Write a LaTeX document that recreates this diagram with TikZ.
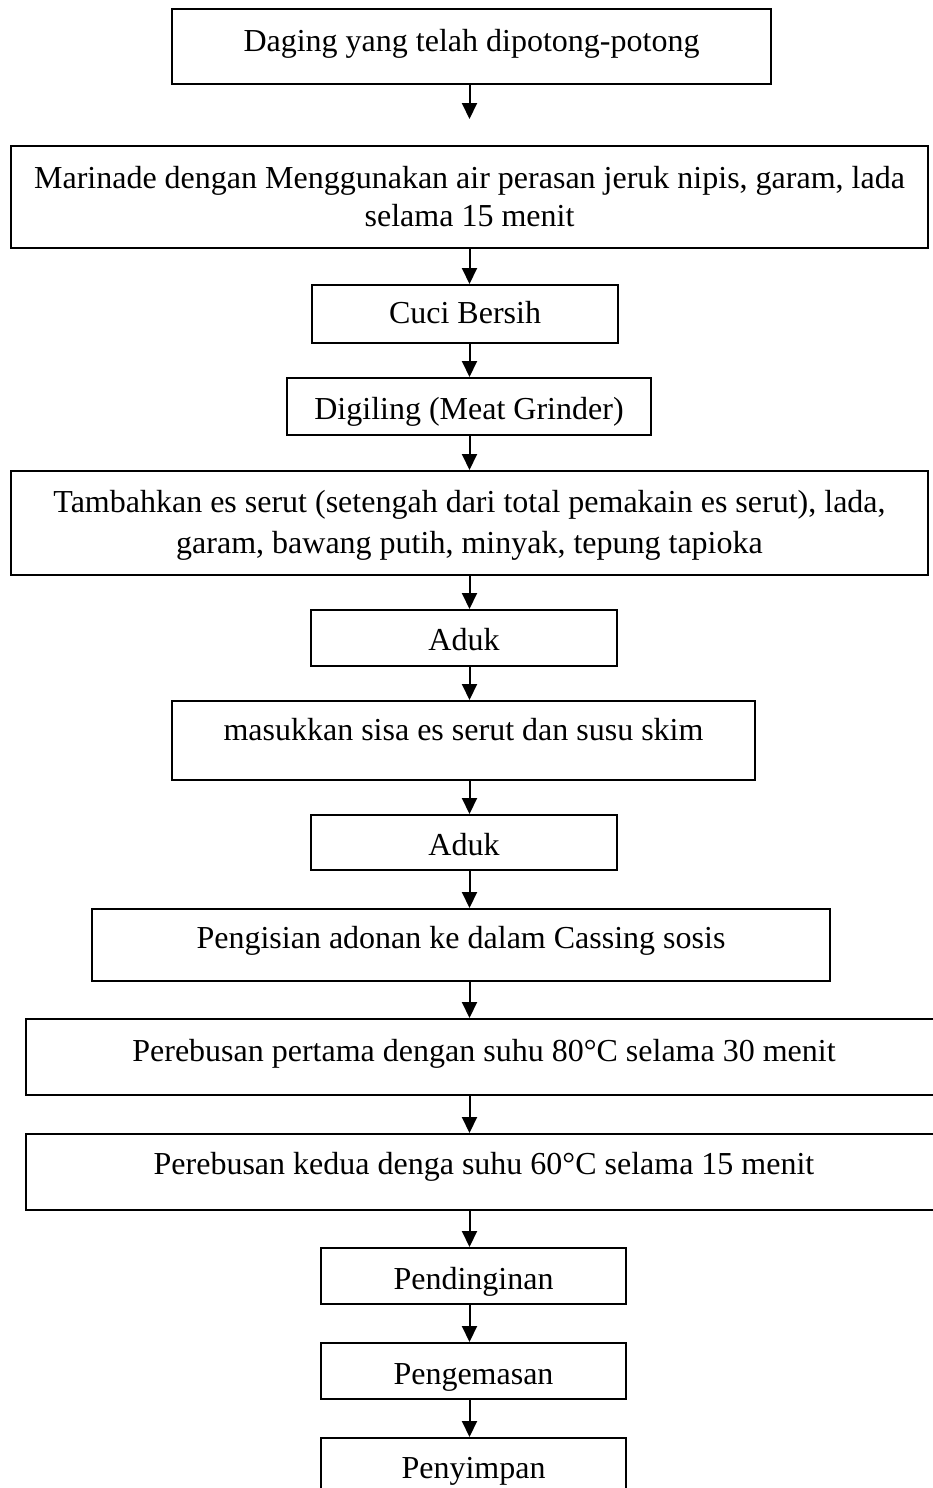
\documentclass[tikz,border=0pt]{standalone}
\usepackage{fontspec}
\setmainfont{Liberation Serif}
\usetikzlibrary{arrows.meta}

\begin{document}
\begin{tikzpicture}[
    x=1pt, y=-1pt,
    font=\fontsize{32}{38}\selectfont,
    >=Latex,
    box/.style={draw, line width=2pt, align=center, inner sep=0pt, anchor=north},
    line/.style={-{Triangle[length=16pt, width=15pt]}, line width=2pt}
]
\useasboundingbox (0,0) rectangle (933,1488);
\coordinate (axis) at (469.5,0);

% Bahan awal
\node[box, minimum width=599pt, text height=43pt, text depth=32pt] (daging) at (471.5,8)
    {Daging yang telah dipotong-potong};
\coordinate (gapend) at ([yshift=-34pt]daging.south -| axis);

% Marinade (two lines: baseline is the last line)
\node[box, minimum width=917pt, text height=80pt, text depth=22pt] (marinade) at (469.5,145)
    {Marinade dengan Menggunakan air perasan jeruk nipis, garam, lada\\selama 15 menit};

% Cuci dan giling
\node[box, minimum width=306pt, text height=38pt, text depth=20pt] (cuci) at (465,284) {Cuci Bersih};
\node[box, minimum width=364pt, text height=41pt, text depth=16pt] (giling) at (469,377) {Digiling (Meat Grinder)};

% Penambahan bahan
\node[box, minimum width=917pt, text height=82pt, text depth=22pt, font=\fontsize{32}{41}\selectfont] (tambah) at (469.5,470)
    {Tambahkan es serut (setengah dari total pemakain es serut), lada,\\garam, bawang putih, minyak, tepung tapioka};
\node[box, minimum width=306pt, text height=40pt, text depth=16pt] (aduka) at (464,609) {Aduk};
\node[box, minimum width=583pt, text height=39pt, text depth=40pt] (masuk) at (463.5,700)
    {masukkan sisa es serut dan susu skim};
\node[box, minimum width=306pt, text height=40pt, text depth=15pt] (adukb) at (464,814) {Aduk};

% Pengisian dan perebusan
\node[box, minimum width=738pt, text height=39pt, text depth=33pt] (isi) at (461,908)
    {Pengisian adonan ke dalam Cassing sosis};
\node[box, minimum width=916pt, text height=42pt, text depth=34pt] (rebusa) at (484,1018)
    {Perebusan pertama dengan suhu 80°C selama 30 menit};
\node[box, minimum width=916pt, text height=40pt, text depth=36pt] (rebusb) at (484,1133)
    {Perebusan kedua denga suhu 60°C selama 15 menit};

% Akhir
\node[box, minimum width=305pt, text height=41pt, text depth=15pt] (dingin) at (473.5,1247) {Pendinginan};
\node[box, minimum width=305pt, text height=41pt, text depth=15pt] (kemas) at (473.5,1342) {Pengemasan};
\node[box, minimum width=305pt, text height=40pt, text depth=16pt] (simpan) at (473.5,1437) {Penyimpan};

% Connections
\draw[line] (daging.south -| axis) -- (gapend);
\draw[line] (marinade.south -| axis) -- (cuci.north -| axis);
\draw[line] (cuci.south -| axis) -- (giling.north -| axis);
\draw[line] (giling.south -| axis) -- (tambah.north -| axis);
\draw[line] (tambah.south -| axis) -- (aduka.north -| axis);
\draw[line] (aduka.south -| axis) -- (masuk.north -| axis);
\draw[line] (masuk.south -| axis) -- (adukb.north -| axis);
\draw[line] (adukb.south -| axis) -- (isi.north -| axis);
\draw[line] (isi.south -| axis) -- (rebusa.north -| axis);
\draw[line] (rebusa.south -| axis) -- (rebusb.north -| axis);
\draw[line] (rebusb.south -| axis) -- (dingin.north -| axis);
\draw[line] (dingin.south -| axis) -- (kemas.north -| axis);
\draw[line] (kemas.south -| axis) -- (simpan.north -| axis);

\end{tikzpicture}
\end{document}
